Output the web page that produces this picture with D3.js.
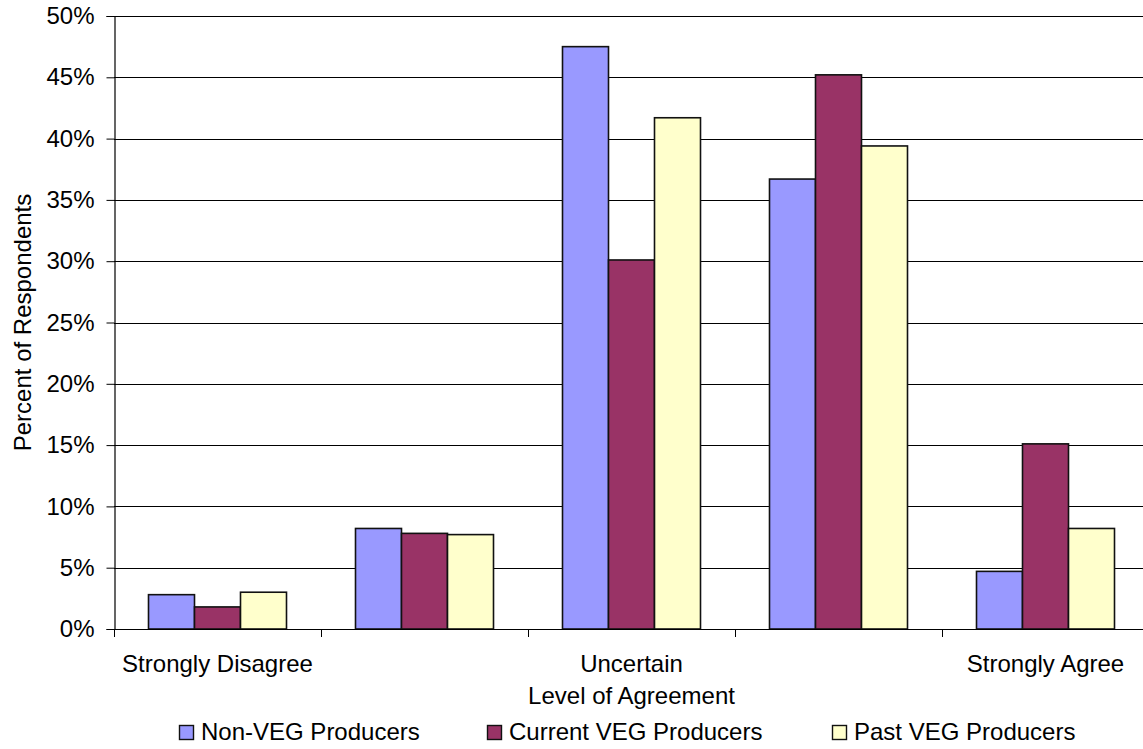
<!DOCTYPE html>
<html>
<head>
<meta charset="utf-8">
<script src="https://cdn.jsdelivr.net/npm/d3@7"></script>
<style>
  html, body { margin: 0; padding: 0; background: #fff; }
  svg { display: block; font-family: "Liberation Sans", Arial, sans-serif; }
</style>
</head>
<body>
<svg id="chart" width="1143" height="749"></svg>
<script>
// Survey responses: level of agreement by producer group (percent of respondents)
const categories = ["Strongly Disagree", "Disagree", "Uncertain", "Agree", "Strongly Agree"];
// Only every other category label fits along the axis
const shownLabels = ["Strongly Disagree", "Uncertain", "Strongly Agree"];
const seriesNames = ["Non-VEG Producers", "Current VEG Producers", "Past VEG Producers"];
const nonVeg  = [2.8, 8.2, 47.5, 36.7, 4.7];
const current = [1.8, 7.8, 30.1, 45.2, 15.1];
const past    = [3.0, 7.7, 41.7, 39.4, 8.2];
const yTicks  = [0, 5, 10, 15, 20, 25, 30, 35, 40, 45, 50];
const colors  = ["#9999FF", "#993366", "#FFFFCC"];

const seriesValues = [nonVeg, current, past];
const svg = d3.select("#chart");

const plot = { left: 114, right: 1149, top: 16, bottom: 629 };

const x0 = d3.scaleBand().domain(categories).range([plot.left, plot.right]).padding(0);
const groupW = x0.bandwidth();
// gap width of 150% of a bar on each side of the group
const barW = groupW / 4.5;
const x1 = d3.scaleBand().domain(seriesNames)
  .range([barW * 0.75, barW * 0.75 + barW * 3]).padding(0);
const y = d3.scaleLinear().domain([0, 50]).range([plot.bottom, plot.top]);

// horizontal gridlines
svg.append("g").selectAll("line").data(yTicks.filter(t => t > 0)).join("line")
  .attr("x1", plot.left).attr("x2", plot.right)
  .attr("y1", d => Math.round(y(d)) + 0.5).attr("y2", d => Math.round(y(d)) + 0.5)
  .attr("stroke", "#000").attr("stroke-width", 1);

// bars
const groups = svg.append("g").selectAll("g").data(categories).join("g")
  .attr("transform", d => `translate(${x0(d)},0)`);
groups.selectAll("rect")
  .data((c, i) => seriesNames.map((s, k) => ({ s, k, v: seriesValues[k][i] })))
  .join("rect")
  .attr("x", d => x1(d.s))
  .attr("y", d => y(d.v))
  .attr("width", x1.bandwidth())
  .attr("height", d => y(0) - y(d.v))
  .attr("fill", d => colors[d.k])
  .attr("stroke", "#111").attr("stroke-width", 1.6);

// y axis
const yAxis = d3.axisLeft(y).tickValues(yTicks).tickSize(8).tickPadding(12)
  .tickFormat(d => d + "%");
const gy = svg.append("g").attr("transform", `translate(${plot.left + 0.5},0)`).call(yAxis);
gy.select(".domain").attr("stroke", "#000").attr("stroke-width", 1.2);
gy.selectAll(".tick line").attr("stroke", "#000");
gy.selectAll(".tick text").attr("font-size", 24).attr("fill", "#000")
  .attr("font-family", "Liberation Sans, Arial, sans-serif");

// x axis with ticks at group boundaries
const boundaries = d3.range(categories.length + 1).map(i => plot.left + i * groupW);
const gx = svg.append("g");
gx.append("line").attr("x1", plot.left).attr("x2", plot.right)
  .attr("y1", plot.bottom + 0.5).attr("y2", plot.bottom + 0.5)
  .attr("stroke", "#000").attr("stroke-width", 1.2);
gx.selectAll("line.tk").data(boundaries).join("line").attr("class", "tk")
  .attr("x1", d => Math.round(d) + 0.5).attr("x2", d => Math.round(d) + 0.5)
  .attr("y1", plot.bottom).attr("y2", plot.bottom + 8)
  .attr("stroke", "#000");
gx.selectAll("text").data(shownLabels).join("text")
  .attr("x", d => x0(d) + groupW / 2)
  .attr("y", 672)
  .attr("text-anchor", "middle")
  .attr("font-size", 24)
  .attr("fill", "#000")
  .text(d => d);

// axis titles
svg.append("text")
  .attr("x", (plot.left + plot.right) / 2).attr("y", 704)
  .attr("text-anchor", "middle").attr("font-size", 24).attr("fill", "#000")
  .text("Level of Agreement");
svg.append("text")
  .attr("transform", `translate(31,${(plot.top + plot.bottom) / 2}) rotate(-90)`)
  .attr("text-anchor", "middle").attr("font-size", 24).attr("fill", "#000")
  .text("Percent of Respondents");

// legend
const legendX = [179, 487, 832];
const legend = svg.append("g").selectAll("g").data(seriesNames).join("g")
  .attr("transform", (d, i) => `translate(${legendX[i]},0)`);
legend.append("rect")
  .attr("x", 0.5).attr("y", 725.5).attr("width", 14).attr("height", 14)
  .attr("fill", (d, i) => colors[i]).attr("stroke", "#111").attr("stroke-width", 1.4);
legend.append("text")
  .attr("x", 22).attr("y", 740)
  .attr("font-size", 24).attr("fill", "#000")
  .text(d => d);
</script>
</body>
</html>
